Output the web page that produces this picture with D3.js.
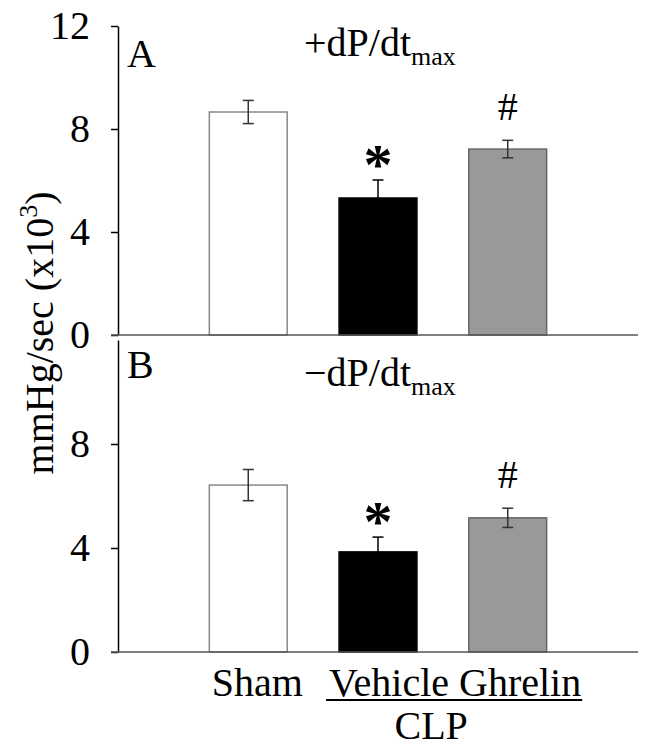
<!DOCTYPE html>
<html lang="en">
<head>
<meta charset="utf-8">
<title>dP/dt max</title>
<script src="https://cdn.jsdelivr.net/npm/d3@7"></script>
<style>
body { margin: 0; background: #fff; }
text { font-family: "Liberation Serif", "Times New Roman", serif; fill: #000; }
</style>
</head>
<body>
<script>
var groups = ["Sham", "Vehicle", "Ghrelin"];
var fills = ["#ffffff", "#000000", "#999999"];
var strokes = ["#888888", "#000000", "#666666"];

// panel A: +dP/dt max, panel B: -dP/dt max (mmHg/sec x10^3)
var plusMean = [8.66, 5.32, 7.22];
var plusSE = [0.45, 0.70, 0.34];
var minusMean = [6.42, 3.85, 5.16];
var minusSE = [0.60, 0.57, 0.37];

var marksA = ["", "*", "#"];
var marksB = ["", "*", "#"];
var ticksA = [0, 4, 8, 12];
var ticksB = [0, 4, 8];

var width = 651, height = 754;

var svg = d3.select("body").append("svg")
  .attr("width", width)
  .attr("height", height);

var x = d3.scaleBand()
  .domain(groups)
  .range([118, 638])
  .paddingInner(0.4)
  .paddingOuter(0.704);

function cx(i) { return x(groups[i]) + x.bandwidth() / 2; }

function panel(means, ses, marks, ticks, y, letter, sign, letterDy, titleDy) {
  var g = svg.append("g");

  // bars
  g.selectAll("rect.bar")
    .data(means)
    .enter()
    .append("rect")
    .attr("class", "bar")
    .attr("x", function(d, i) { return x(groups[i]); })
    .attr("width", x.bandwidth())
    .attr("y", function(d) { return y(d); })
    .attr("height", function(d) { return y(0) - y(d); })
    .attr("fill", function(d, i) { return fills[i]; })
    .attr("stroke", function(d, i) { return strokes[i]; })
    .attr("stroke-width", 1.5);

  // error bars (black on the black bar so the lower half disappears)
  var eb = g.selectAll("g.err")
    .data(means)
    .enter()
    .append("g")
    .attr("class", "err")
    .attr("stroke", function(d, i) { return fills[i] == "#000000" ? "#000" : "#333"; })
    .attr("stroke-width", 1.5);
  eb.append("line")
    .attr("x1", function(d, i) { return cx(i); })
    .attr("x2", function(d, i) { return cx(i); })
    .attr("y1", function(d, i) { return y(d - ses[i]); })
    .attr("y2", function(d, i) { return y(d + ses[i]); });
  eb.append("line")
    .attr("x1", function(d, i) { return cx(i) - 5.5; })
    .attr("x2", function(d, i) { return cx(i) + 5.5; })
    .attr("y1", function(d, i) { return y(d + ses[i]); })
    .attr("y2", function(d, i) { return y(d + ses[i]); });
  eb.append("line")
    .attr("x1", function(d, i) { return cx(i) - 5.5; })
    .attr("x2", function(d, i) { return cx(i) + 5.5; })
    .attr("y1", function(d, i) { return y(d - ses[i]); })
    .attr("y2", function(d, i) { return y(d - ses[i]); });

  // significance marks
  g.selectAll("text.mark")
    .data(means)
    .enter()
    .append("text")
    .attr("class", "mark")
    .attr("text-anchor", "middle")
    .attr("x", function(d, i) { return cx(i); })
    .attr("y", function(d, i) {
      return marks[i] == "*" ? y(d + ses[i]) + 4 : y(d + ses[i]) - 20;
    })
    .attr("font-size", function(d, i) { return marks[i] == "*" ? "58px" : "40px"; })
    .attr("font-weight", function(d, i) { return marks[i] == "*" ? "bold" : "normal"; })
    .text(function(d, i) { return marks[i]; });

  // y axis
  var yAxis = g.append("g")
    .attr("transform", "translate(118,0)")
    .call(d3.axisLeft(y).tickValues(ticks).tickSize(7).tickSizeOuter(0).tickPadding(21));
  yAxis.select(".domain").attr("stroke", "#000").attr("stroke-width", 1.5);
  yAxis.selectAll(".tick line").attr("stroke", "#000").attr("stroke-width", 1.5);
  yAxis.selectAll(".tick text")
    .attr("font-size", "40px")
    .attr("fill", "#000");

  // baseline
  g.append("line")
    .attr("x1", 111)
    .attr("x2", 638)
    .attr("y1", y(0))
    .attr("y2", y(0))
    .attr("stroke", "#555")
    .attr("stroke-width", 1.5);

  // panel letter
  g.append("text")
    .attr("x", 127)
    .attr("y", y(12) + letterDy)
    .attr("font-size", "40px")
    .text(letter);

  // title
  var t = g.append("text")
    .attr("x", 304)
    .attr("y", y(12) + titleDy)
    .attr("font-size", "40px");
  t.append("tspan").text(sign + "dP/dt");
  t.append("tspan")
    .attr("font-size", "26px")
    .attr("dy", 9)
    .text("max");
}

var yA = d3.scaleLinear().domain([0, 12]).range([335, 26]);
var yB = d3.scaleLinear().domain([0, 12]).range([652, 340]);

panel(plusMean, plusSE, marksA, ticksA, yA, "A", "+", 41, 30);
panel(minusMean, minusSE, marksB, ticksB, yB, "B", "\u2212", 38, 46);

// y axis title
var yl = svg.append("text")
  .attr("transform", "translate(53,333) rotate(-90)")
  .attr("text-anchor", "middle")
  .attr("font-size", "40px");
yl.append("tspan").text("mmHg/sec (x10");
yl.append("tspan").attr("font-size", "26px").attr("dy", -16).text("3");
yl.append("tspan").attr("dy", 16).text(")");

// x category labels
svg.append("text")
  .attr("x", cx(0) + 9)
  .attr("y", 696)
  .attr("text-anchor", "middle")
  .attr("font-size", "40px")
  .text("Sham");

var clp = svg.append("text")
  .attr("x", x("Vehicle") - 10)
  .attr("y", 696)
  .attr("font-size", "40px")
  .text("Vehicle Ghrelin");

var bb = clp.node().getBBox();
svg.append("line")
  .attr("x1", bb.x - 3)
  .attr("x2", bb.x + bb.width + 1)
  .attr("y1", 700)
  .attr("y2", 700)
  .attr("stroke", "#000")
  .attr("stroke-width", 2);

svg.append("text")
  .attr("x", bb.x + bb.width / 2 - 24)
  .attr("y", 739)
  .attr("text-anchor", "middle")
  .attr("font-size", "40px")
  .text("CLP");
</script>
</body>
</html>
